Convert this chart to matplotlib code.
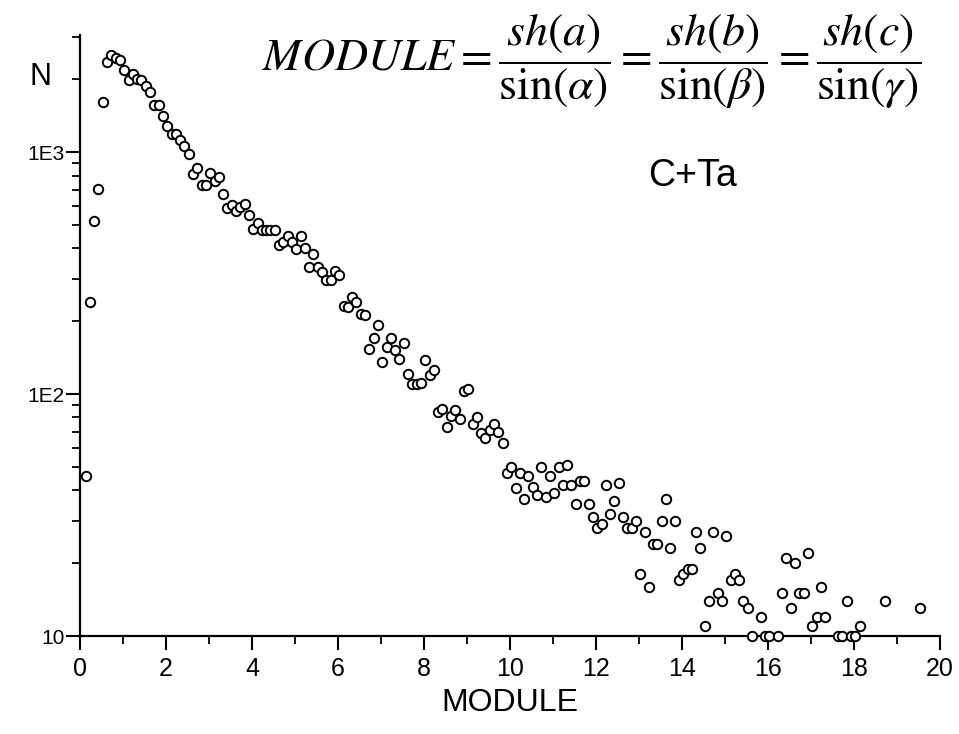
"""
N versus MODULE for C+Ta, open circles on a log scale.
"""

import matplotlib
matplotlib.use('Agg')
import matplotlib.pyplot as plt
from matplotlib.ticker import LogLocator, NullFormatter, MultipleLocator

plt.rcParams['mathtext.fontset'] = 'stix'
plt.rcParams['font.family'] = ['Liberation Sans', 'DejaVu Sans']

# values
module = [0.13, 0.23, 0.33, 0.43, 0.53, 0.63, 0.73, 0.83, 0.93, 1.03,
          1.13, 1.23, 1.33, 1.43, 1.53, 1.63, 1.73, 1.83, 1.93, 2.03,
          2.13, 2.23, 2.33, 2.43, 2.53, 2.63, 2.73, 2.83, 2.93, 3.03,
          3.13, 3.23, 3.33, 3.43, 3.53, 3.63, 3.73, 3.83, 3.93, 4.03,
          4.13, 4.23, 4.33, 4.43, 4.53, 4.63, 4.73, 4.83, 4.93, 5.03,
          5.13, 5.23, 5.33, 5.43, 5.53, 5.63, 5.73, 5.83, 5.93, 6.03,
          6.13, 6.23, 6.33, 6.43, 6.53, 6.63, 6.73, 6.83, 6.93, 7.03,
          7.13, 7.23, 7.33, 7.43, 7.53, 7.63, 7.73, 7.83, 7.93, 8.03,
          8.13, 8.23, 8.33, 8.43, 8.53, 8.63, 8.73, 8.83, 8.93, 9.03,
          9.13, 9.23, 9.33, 9.43, 9.53, 9.63, 9.73, 9.83, 9.93, 10.03,
          10.13, 10.23, 10.33, 10.43, 10.53, 10.63, 10.73, 10.83, 10.93, 11.03,
          11.13, 11.23, 11.33, 11.43, 11.53, 11.63, 11.73, 11.83, 11.93, 12.03,
          12.13, 12.23, 12.33, 12.43, 12.53, 12.63, 12.73, 12.83, 12.93, 13.03,
          13.13, 13.23, 13.33, 13.43, 13.53, 13.63, 13.73, 13.83, 13.93, 14.03,
          14.13, 14.23, 14.33, 14.43, 14.53, 14.63, 14.73, 14.83, 14.93, 15.03,
          15.13, 15.23, 15.33, 15.43, 15.53, 15.63, 15.83, 15.93, 16.03, 16.23,
          16.33, 16.43, 16.53, 16.63, 16.73, 16.83, 16.93, 17.03, 17.13, 17.23,
          17.33, 17.63, 17.73, 17.83, 17.93, 18.03, 18.13, 18.73, 19.53]

counts = [46, 241, 521, 706, 1607, 2345, 2510, 2440, 2405, 2190,
          1977, 2092, 2000, 1990, 1880, 1776, 1566, 1566, 1416, 1280,
          1186, 1190, 1120, 1058, 981, 812, 859, 733, 733, 817,
          762, 787, 671, 589, 604, 570, 592, 611, 549, 483,
          509, 475, 475, 478, 475, 413, 426, 448, 426, 396,
          451, 400, 336, 378, 336, 319, 297, 297, 323, 309,
          232, 229, 252, 241, 215, 213, 153, 171, 192, 136,
          156, 170, 152, 140, 162, 121, 110, 110, 111, 138,
          120, 126, 84.5, 87, 73, 81, 86, 79, 103, 105,
          75.5, 80, 69, 66, 71, 75, 69.5, 62.7, 47, 49.8,
          40.9, 47, 36.8, 45.8, 41.2, 38.4, 49.8, 37.4, 45.8, 39,
          49.8, 42, 51, 42, 35.2, 43.9, 43.9, 35.2, 31, 28,
          28.9, 42, 32, 36, 43, 31, 28, 28, 30, 18,
          27, 16, 24, 24, 30, 37, 23, 30, 17, 18,
          18.9, 18.9, 27, 23, 11, 14, 27, 15, 14, 26,
          17, 18, 17, 14, 13, 10, 12, 10, 10, 10,
          15, 21, 13, 20, 15, 15, 22, 11, 12, 16,
          12, 10, 10, 14, 10, 10, 11, 14, 13]

y_ticks = [10, 100, 1000]
y_tick_labels = ['10', '1E2', '1E3']

fig = plt.figure(figsize=(9.59, 7.34), dpi=100)
ax = fig.add_axes([0.0834, 0.1335, 0.8968, 0.819])

ax.scatter(module, counts, s=46, facecolor='white', edgecolor='black',
           linewidths=1.4, zorder=5, clip_on=False)

ax.set_yscale('log')
ax.set_xlim(0, 20)
ax.set_ylim(10, 3050)

ax.spines['top'].set_visible(False)
ax.spines['right'].set_visible(False)
ax.spines['left'].set_linewidth(1.6)
ax.spines['bottom'].set_linewidth(1.6)

ax.xaxis.set_major_locator(MultipleLocator(2))
ax.xaxis.set_minor_locator(MultipleLocator(1))
ax.set_yticks(y_ticks)
ax.set_yticklabels(y_tick_labels)
ax.yaxis.set_minor_locator(LogLocator(base=10, subs=range(2, 10)))
ax.yaxis.set_minor_formatter(NullFormatter())

ax.tick_params(axis='both', which='major', direction='out', length=10, width=1.5)
ax.tick_params(axis='both', which='minor', direction='out', length=6, width=1.3)
ax.tick_params(axis='x', which='major', labelsize=18, pad=5)
ax.tick_params(axis='y', which='major', labelsize=15, pad=1)

ax.set_xlabel('MODULE', fontsize=23, labelpad=5)

fig.text(30 / 959, 1 - 77 / 734, 'N', fontsize=22, ha='left', va='center')
fig.text(692 / 959, 1 - 176 / 734, 'C+Ta', fontsize=27, ha='center', va='center')
fig.text(921 / 959, 1 - 62 / 734,
         r'$\mathit{MODULE} = \dfrac{sh(a)}{\sin(\alpha)} = '
         r'\dfrac{sh(b)}{\sin(\beta)} = \dfrac{sh(c)}{\sin(\gamma)}$',
         fontsize=33, ha='right', va='center')

fig.savefig('out.png', dpi=100)
